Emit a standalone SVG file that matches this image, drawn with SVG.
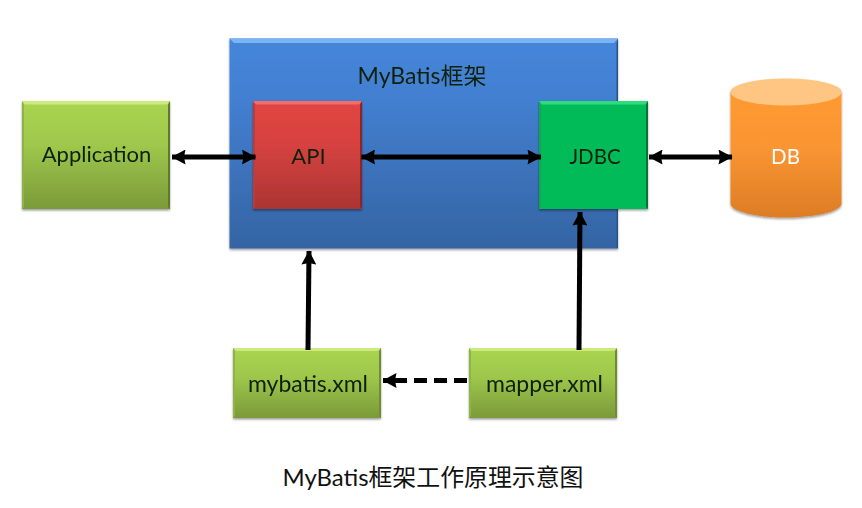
<svg xmlns="http://www.w3.org/2000/svg" width="862" height="508" viewBox="0 0 862 508">
<style>
text{font-family:"Lato","Noto Sans CJK SC",sans-serif;font-size:22px;fill:#10200c;text-anchor:middle}
.wide{font-size:23px}
.conn{stroke:#000;stroke-width:5;fill:none}
</style>
<defs>
<linearGradient id="blue" x1="0" y1="0" x2="0" y2="1"><stop offset="0" stop-color="#4486da"/><stop offset=".3" stop-color="#437fd0"/><stop offset="1" stop-color="#3464a3"/></linearGradient>
<linearGradient id="green" x1="0" y1="0" x2="0" y2="1"><stop offset="0" stop-color="#a9d551"/><stop offset=".4" stop-color="#9fc84c"/><stop offset="1" stop-color="#7b9a39"/></linearGradient>
<linearGradient id="red" x1="0" y1="0" x2="0" y2="1"><stop offset="0" stop-color="#e04542"/><stop offset=".4" stop-color="#d64240"/><stop offset="1" stop-color="#ab3432"/></linearGradient>
<linearGradient id="orange" x1="0" y1="0" x2="0" y2="1"><stop offset="0" stop-color="#ff9a33"/><stop offset=".45" stop-color="#f99531"/><stop offset="1" stop-color="#dd7c26"/></linearGradient>
<filter id="sh" x="-10%" y="-10%" width="120%" height="120%"><feDropShadow dx="0" dy="1.500" stdDeviation="1.200" flood-color="#000" flood-opacity=".4"/></filter>
<filter id="soft" x="-10%" y="-30%" width="120%" height="160%"><feGaussianBlur stdDeviation=".6"/></filter>
<marker id="head" viewBox="0 0 15 15" refX="14.500" refY="7.500" markerWidth="15" markerHeight="15" markerUnits="userSpaceOnUse" orient="auto-start-reverse"><path d="M1 0L15 7.500L1 15L2.500 7.500Z" fill="#000"/></marker>
</defs>

<g id="mybatis-frame" filter="url(#sh)">
<rect x="229.500" y="38.500" width="388.500" height="210" fill="url(#blue)"/>
<path d="M229.500 38.500H618L614 43H234Z" fill="#78b4f6"/>
<path d="M618 38.500V248.500L616.500 247V43Z" fill="#2b5288"/>
<text class="wide" x="422" y="84">MyBatis框架</text>
</g>

<g id="application" filter="url(#sh)">
<rect x="22" y="101" width="148" height="108" fill="url(#green)"/>
<path d="M22 101H170L167 104.500H25Z" fill="#cdea7f"/>
<path d="M170 101V209L168 207V104.500Z" fill="#5f7a2a"/>
<path d="M22 101V209L24 207V104.500Z" fill="#8fb345"/>
<text x="96.500" y="162">Application</text>
</g>

<g id="api" filter="url(#sh)">
<rect x="253" y="101" width="109" height="108" fill="url(#red)"/>
<path d="M253 101H362L359 104.500H256Z" fill="#f56c68"/>
<path d="M362 101V209L360 207V104.500Z" fill="#8a2826"/>
<path d="M253 101V209L255 207V104.500Z" fill="#bf3a38"/>
<text x="308.500" y="164">API</text>
</g>

<g id="jdbc" filter="url(#sh)">
<rect x="539" y="101" width="109" height="108" fill="#06bb58"/>
<path d="M539 101H648L645 104.500H542Z" fill="#2fdc7c"/>
<path d="M648 101V209L646 207V104.500Z" fill="#05733a"/>
<path d="M539 101V209L541 207V104.500Z" fill="#0aa850"/>
<text x="595" y="164" style="font-size:20.500px">JDBC</text>
</g>

<g id="db" filter="url(#sh)">
<path d="M730.500 92V203.500C730.500 211 755 217.500 786 217.500S841.500 211 841.500 203.500V92Z" fill="url(#orange)"/>
<ellipse cx="786" cy="92" rx="55.500" ry="13.500" fill="#fec583"/>
<text x="785.500" y="164" style="fill:#fff;font-size:20.500px">DB</text>
</g>

<g id="mybatis-xml" filter="url(#sh)">
<rect x="233" y="348" width="148" height="70" fill="url(#green)"/>
<path d="M233 348H381L378 351H236Z" fill="#cdea7f"/>
<path d="M381 348V418L379 416V351Z" fill="#6f8c33"/>
<path d="M233 348V418L235 416V351Z" fill="#8fb345"/>
<text class="wide" x="308" y="391.500">mybatis.xml</text>
</g>

<g id="mapper-xml" filter="url(#sh)">
<rect x="469" y="348" width="148" height="70" fill="url(#green)"/>
<path d="M469 348H617L614 351H472Z" fill="#cdea7f"/>
<path d="M617 348V418L615 416V351Z" fill="#6f8c33"/>
<path d="M469 348V418L471 416V351Z" fill="#8fb345"/>
<text class="wide" x="544.500" y="391.500">mapper.xml</text>
</g>

<g id="connectors" filter="url(#soft)">
<line class="conn" x1="172" y1="157" x2="255.500" y2="157" marker-start="url(#head)" marker-end="url(#head)"/>
<line class="conn" x1="361.500" y1="157" x2="541" y2="157" marker-start="url(#head)" marker-end="url(#head)"/>
<line class="conn" x1="649" y1="157" x2="732" y2="157" marker-start="url(#head)" marker-end="url(#head)"/>
<line class="conn" x1="308" y1="350" x2="309" y2="251" marker-end="url(#head)"/>
<line class="conn" x1="579" y1="350" x2="580" y2="212" marker-end="url(#head)"/>
<line class="conn" x1="467" y1="380.500" x2="383" y2="380.500" stroke-dasharray="13 7" marker-end="url(#head)"/>
</g>

<text x="433" y="486" style="fill:#111;font-size:23.900px">MyBatis框架工作原理示意图</text>
</svg>
